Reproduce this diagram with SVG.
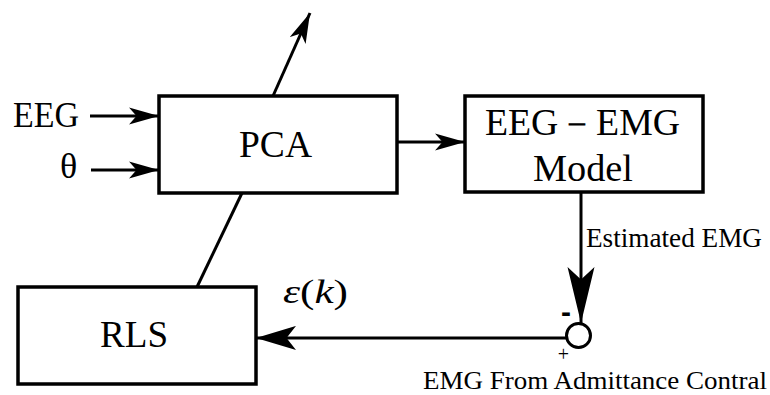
<svg xmlns="http://www.w3.org/2000/svg" width="770" height="395" viewBox="0 0 770 395">
<style>
.box{fill:#fff;stroke:#000;stroke-width:3.5}
.ln{fill:none;stroke:#000;stroke-width:3}
.t{font-family:'Liberation Serif','Times New Roman',Times,serif;fill:#000}
</style>
<defs>
<marker id="a" markerUnits="userSpaceOnUse" markerWidth="30" markerHeight="18" viewBox="0 0 28 16" refX="28" refY="8" orient="auto">
<path d="M0,0 L28,8 L0,16 L7,8 Z" fill="#000"/>
</marker>
<marker id="aL" markerUnits="userSpaceOnUse" markerWidth="40" markerHeight="25" viewBox="0 0 38 23" refX="38" refY="11.5" orient="auto">
<path d="M0,0 L38,11.5 L0,23 L9,11.5 Z" fill="#000"/>
</marker>
<marker id="aV" markerUnits="userSpaceOnUse" markerWidth="56" markerHeight="28" viewBox="0 0 54 26" refX="54" refY="13" orient="auto">
<path d="M0,0 L54,13 L0,26 L12,13 Z" fill="#000"/>
</marker>
</defs>
<g id="connectors">
<line class="ln" x1="90" y1="116" x2="159" y2="116" marker-end="url(#a)"/>
<line class="ln" x1="91" y1="170" x2="159" y2="170" marker-end="url(#a)"/>
<line class="ln" x1="273" y1="96" x2="310" y2="13" marker-end="url(#a)"/>
<line class="ln" x1="242" y1="193" x2="197" y2="287"/>
<line class="ln" x1="397" y1="142" x2="465" y2="142" marker-end="url(#a)"/>
<line class="ln" x1="581" y1="193" x2="581" y2="323" marker-end="url(#aV)"/>
<line class="ln" x1="566" y1="338" x2="256" y2="338" marker-end="url(#aL)"/>
</g>
<g id="pca">
<rect class="box" x="159" y="96" width="238" height="97"/>
<text class="t" x="275.5" y="157" font-size="37" text-anchor="middle" textLength="73" lengthAdjust="spacingAndGlyphs">PCA</text>
</g>
<g id="model">
<rect class="box" x="465" y="96" width="238" height="96"/>
<text class="t" x="582.5" y="135" font-size="37" text-anchor="middle" textLength="195" lengthAdjust="spacingAndGlyphs">EEG－EMG</text>
<text class="t" x="583" y="181" font-size="37" text-anchor="middle" textLength="100" lengthAdjust="spacingAndGlyphs">Model</text>
</g>
<g id="rls">
<rect class="box" x="18" y="287" width="238" height="97"/>
<text class="t" x="134" y="347" font-size="37" text-anchor="middle" textLength="68" lengthAdjust="spacingAndGlyphs">RLS</text>
</g>
<g id="sum">
<circle cx="578.5" cy="335.5" r="12" fill="#fff" stroke="#000" stroke-width="3"/>
<text x="566" y="322" font-size="30" font-weight="bold" text-anchor="middle" style="font-family:'Liberation Sans',Arial,sans-serif">-</text>
<text class="t" x="563.5" y="361" font-size="20" text-anchor="middle">+</text>
</g>
<g id="labels">
<text class="t" x="13" y="127" font-size="36" textLength="66" lengthAdjust="spacingAndGlyphs">EEG</text>
<text class="t" x="60" y="178" font-size="36">θ</text>
<text class="t" x="283" y="303" font-size="34" textLength="65" lengthAdjust="spacingAndGlyphs"><tspan font-style="italic">ε</tspan>(<tspan font-style="italic">k</tspan>)</text>
<text class="t" x="586" y="247" font-size="27" textLength="176" lengthAdjust="spacingAndGlyphs">Estimated EMG</text>
<text class="t" x="423" y="389" font-size="25" textLength="344" lengthAdjust="spacingAndGlyphs">EMG From Admittance Contral</text>
</g>
</svg>
